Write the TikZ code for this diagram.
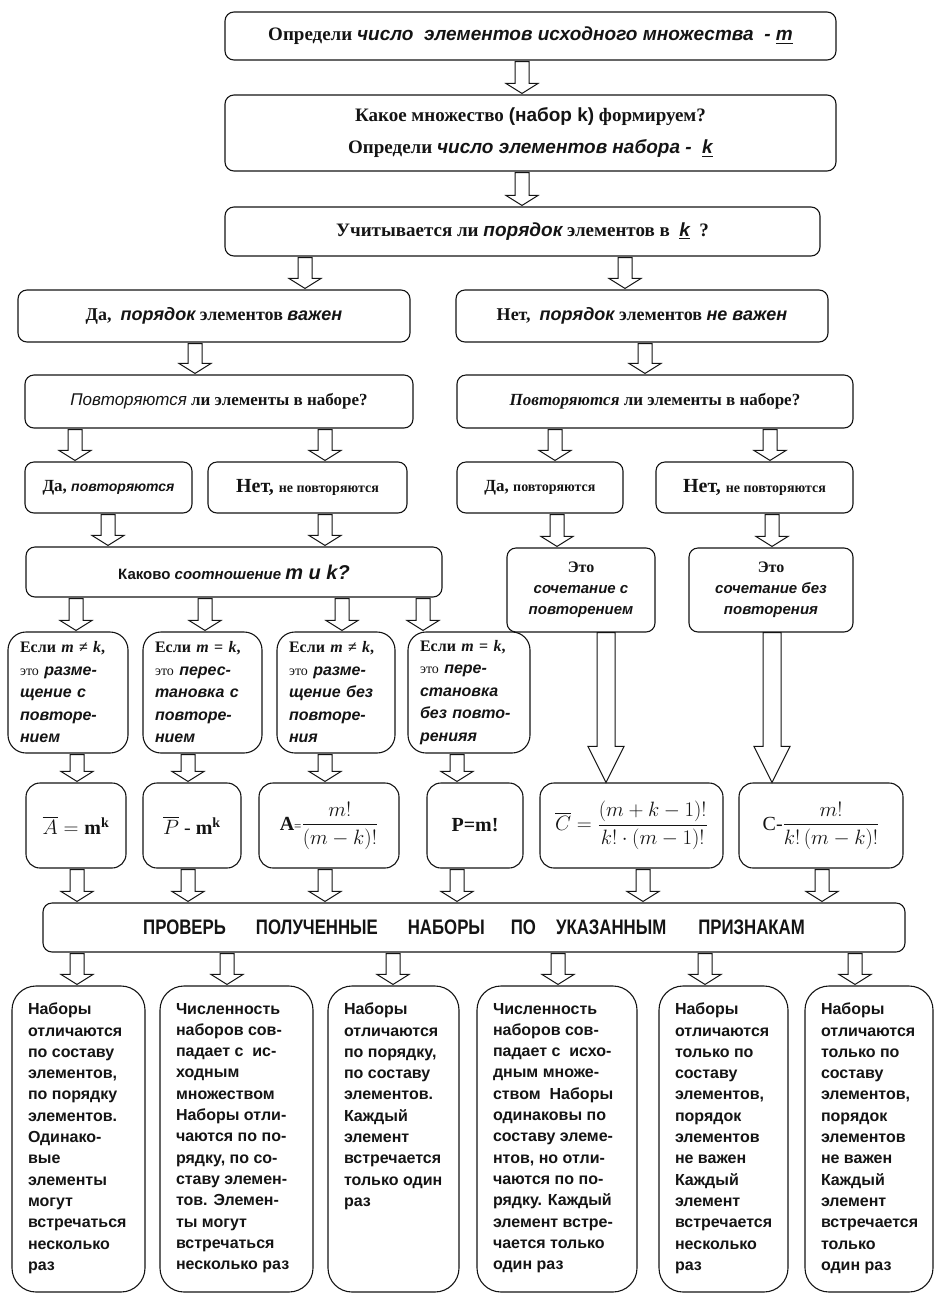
\documentclass[tikz,border=0pt]{standalone}
\usepackage{amsmath}
\usepackage{fontspec}
\setmainfont{Liberation Serif}
\setsansfont{Liberation Sans}
\newfontfamily\narrowsans{Liberation Sans}[FakeStretch=0.8]
\usetikzlibrary{calc}
\definecolor{ink}{RGB}{20,20,20}

\tikzset{
  box/.style={draw=ink, line width=1.1pt, rounded corners=9pt, align=center,
    inner sep=0pt, text=ink},
  smallbox/.style={box, rounded corners=18pt, align=left,
    font=\fontsize{16}{22.5}\selectfont},
  formbox/.style={box, rounded corners=14pt, font=\fontsize{20}{24}\selectfont},
  notebox/.style={box, rounded corners=24pt, inner xsep=16pt, inner ysep=17pt,
    font=\sffamily\bfseries\fontsize{16}{21.3}\selectfont},
  blockarr/.style={draw=ink, line width=1pt, fill=white},
}
% sans bold italic words
\newcommand{\ib}[1]{{\sffamily\bfseries\itshape #1}}
% hollow block arrow at x=#1 from node #2 down to node #3
\newcommand{\varr}[3]{%
  \draw[blockarr] let \p1=(#2.south), \p2=(#3.north) in
    (#1pt-7pt,\y1-1pt) -- (#1pt-7pt,\y2+11pt) -- (#1pt-16pt,\y2+11pt)
    -- (#1pt,\y2+1pt) -- (#1pt+16pt,\y2+11pt) -- (#1pt+7pt,\y2+11pt)
    -- (#1pt+7pt,\y1-1pt) -- cycle;}
\newcommand{\varrlong}[3]{%
  \draw[blockarr] let \p1=(#2.south), \p2=(#3.north) in
    (#1pt-9pt,\y1) -- (#1pt-9pt,\y2+36pt) -- (#1pt-18pt,\y2+36pt)
    -- (#1pt,\y2) -- (#1pt+18pt,\y2+36pt) -- (#1pt+9pt,\y2+36pt)
    -- (#1pt+9pt,\y1) -- cycle;}
\newcommand{\notetext}[2]{\parbox[c][272pt][t]{#1}{\raggedright #2}}

\begin{document}
\begin{tikzpicture}[x=1pt,y=-1pt]
  \useasboundingbox (0,0) rectangle (935,1294);

  % questions
  \node[box, minimum width=611, minimum height=48, font=\bfseries\fontsize{19}{23}\selectfont]
    (first) at (530.5,36) {Определи \ib{число\ \ элементов исходного множества\ \ -\ \underline{m}}};
  \node[box, minimum width=611, minimum height=76, font=\bfseries\fontsize{19}{32}\selectfont]
    (second) at (530.5,133) {Какое множество {\sffamily(набор k)} формируем?\\
      Определи \ib{число элементов набора -\ \ \underline{k}}};
  \node[box, minimum width=595, minimum height=49, font=\bfseries\fontsize{19}{23}\selectfont]
    (order) at (522.5,231.5) {Учитывается ли \ib{порядок} элементов в\ \ \underline{\ib{k}}\ \ ?};

  \node[box, minimum width=392, minimum height=52, font=\bfseries\fontsize{18}{22}\selectfont]
    (yesord) at (214,316) {Да,\ \ \ib{порядок} элементов \ib{важен}};
  \node[box, minimum width=372, minimum height=52, font=\bfseries\fontsize{18}{22}\selectfont]
    (noord) at (642,316) {Нет,\ \ \ib{порядок} элементов \ib{не важен}};

  \node[box, minimum width=388, minimum height=53, font=\bfseries\fontsize{17}{21}\selectfont]
    (repl) at (219,401.5) {{\sffamily\mdseries\itshape Повторяются} ли элементы в наборе?};
  \node[box, minimum width=396, minimum height=53, font=\bfseries\fontsize{17}{21}\selectfont]
    (repr) at (655,401.5) {\textit{Повторяются} ли элементы в наборе?};

  \node[box, minimum width=167, minimum height=51, font=\bfseries\fontsize{17}{21}\selectfont]
    (yesrepl) at (108.5,487.5) {Да, {\fontsize{14}{17}\selectfont\ib{повторяются}}};
  \node[box, minimum width=199, minimum height=51, font=\bfseries\fontsize{20}{21}\selectfont]
    (norepl) at (307.5,487.5) {Нет, {\fontsize{14}{17}\selectfont не повторяются}};
  \node[box, minimum width=166, minimum height=51, font=\bfseries\fontsize{17}{21}\selectfont]
    (yesrepr) at (540,487.5) {Да, {\fontsize{14}{17}\selectfont повторяются}};
  \node[box, minimum width=197, minimum height=51, font=\bfseries\fontsize{20}{21}\selectfont]
    (norepr) at (754.5,487.5) {Нет, {\fontsize{14}{17}\selectfont не повторяются}};

  \node[box, minimum width=416, minimum height=50, font=\sffamily\bfseries\fontsize{15}{19}\selectfont]
    (ratio) at (234,572) {Каково \textit{соотношение} {\itshape\fontsize{20}{19}\selectfont m и k?}};
  \node[box, minimum width=148, minimum height=84, font=\bfseries\fontsize{16}{21}\selectfont]
    (combr) at (581,590) {Это\\ \ib{\fontsize{15}{21}\selectfont сочетание с}\\ \ib{\fontsize{15}{21}\selectfont повторением}};
  \node[box, minimum width=164, minimum height=84, font=\bfseries\fontsize{16}{21}\selectfont]
    (combn) at (771,590) {Это\\ \ib{\fontsize{15}{21}\selectfont сочетание без}\\ \ib{\fontsize{15}{21}\selectfont повторения}};

  % cases
  \node[smallbox, minimum width=120, minimum height=121, text width=96]
    (arrr) at (68,692.5) {\textbf{Если \textit{m} ≠ \textit{k},}\\ {\fontsize{14}{1}\selectfont это} \ib{разме-}\\
      \ib{щение с}\\ \ib{повторе-}\\ \ib{нием}};
  \node[smallbox, minimum width=119, minimum height=121, text width=95]
    (permr) at (202.5,692.5) {\textbf{Если \textit{m} = \textit{k},}\\ {\fontsize{14}{1}\selectfont это} \ib{перес-}\\
      \ib{тановка с}\\ \ib{повторе-}\\ \ib{нием}};
  \node[smallbox, minimum width=118, minimum height=121, text width=94]
    (arrn) at (336,692.5) {\textbf{Если \textit{m} ≠ \textit{k},}\\ {\fontsize{14}{1}\selectfont это} \ib{разме-}\\
      \ib{щение без}\\ \ib{повторе-}\\ \ib{ния}};
  \node[smallbox, minimum width=122, minimum height=121, text width=98]
    (permn) at (469,692.5) {\textbf{Если \textit{m} = \textit{k},}\\ {\fontsize{14}{1}\selectfont это} \ib{пере-}\\
      \ib{становка}\\ \ib{без повто-}\\ \ib{ренияя}};

  % formulas
  \node[formbox, minimum width=100, minimum height=85] (fa) at (76,825.5)
    {$\overline{A}=\mathbf{m}^{\mathbf{k}}$};
  \node[formbox, minimum width=98, minimum height=85] (fp) at (192,825.5)
    {$\overline{P}\ \text{-}\ \mathbf{m}^{\mathbf{k}}$};
  \node[formbox, minimum width=140, minimum height=85] (fan) at (329,825.5)
    {\textbf{A}{\fontsize{13}{1}\selectfont=}$\dfrac{m!}{(m-k)!}$};
  \node[formbox, minimum width=96, minimum height=85] (fpn) at (475,825.5)
    {\textbf{P=m!}};
  \node[formbox, minimum width=183, minimum height=85] (fc) at (631.5,825.5)
    {$\overline{C}=\dfrac{(m+k-1)!}{k!\cdot(m-1)!}$};
  \node[formbox, minimum width=164, minimum height=85] (fcn) at (821,825.5)
    {C-$\dfrac{m!}{k!\,(m-k)!}$};

  \node[box, minimum width=862, minimum height=49, font=\narrowsans\bfseries\fontsize{21}{24}\selectfont]
    (check) at (474,927.5) {ПРОВЕРЬ\hspace{30pt}ПОЛУЧЕННЫЕ\hspace{30pt}НАБОРЫ\hspace{26pt}ПО\hspace{20pt}УКАЗАННЫМ\hspace{32pt}ПРИЗНАКАМ};

  % properties
  \node[notebox] (pa) at (78.5,1139) {\notetext{101pt}{Наборы\\ отличаются\\ по составу\\ элементов,\\ по порядку\\
    элементов.\\ Одинако-\\ вые\\ элементы\\ могут\\ встречаться\\ несколько\\ раз}};
  \node[notebox] (pb) at (236.5,1139) {\notetext{121pt}{Численность\\ наборов сов-\\ падает с\ \ ис-\\ ходным\\
    множеством\\ Наборы отли-\\ чаются по по-\\ рядку, по со-\\ ставу элемен-\\ тов. Элемен-\\ ты могут\\
    встречаться\\ несколько раз}};
  \node[notebox] (pc) at (393.5,1139) {\notetext{99pt}{Наборы\\ отличаются\\ по порядку,\\ по составу\\
    элементов.\\ Каждый\\ элемент\\ встречается\\ \mbox{только один}\\ раз}};
  \node[notebox] (pd) at (557,1139) {\notetext{128pt}{Численность\\ наборов сов-\\ падает с\ \ исхо-\\
    дным множе-\\ ством\ \ Наборы\\ одинаковы по\\ составу элеме-\\ нтов, но отли-\\ чаются по по-\\
    рядку. Каждый\\ элемент встре-\\ чается только\\ один раз}};
  \node[notebox] (pe) at (723.5,1139) {\notetext{97pt}{Наборы\\ отличаются\\ только по\\ составу\\ элементов,\\
    порядок\\ элементов\\ не важен\\ Каждый\\ элемент\\ встречается\\ несколько\\ раз}};
  \node[notebox] (pf) at (869,1139) {\notetext{96pt}{Наборы\\ отличаются\\ только по\\ составу\\ элементов,\\
    порядок\\ элементов\\ не важен\\ Каждый\\ элемент\\ встречается\\ только\\ один раз}};

  % arrows
  \varr{522}{first}{second}
  \varr{522}{second}{order}
  \varr{305}{order}{yesord}
  \varr{625}{order}{noord}
  \varr{195}{yesord}{repl}
  \varr{645}{noord}{repr}
  \varr{75}{repl}{yesrepl}
  \varr{325}{repl}{norepl}
  \varr{555}{repr}{yesrepr}
  \varr{770}{repr}{norepr}
  \varr{108}{yesrepl}{ratio}
  \varr{325}{norepl}{ratio}
  \varr{557}{yesrepr}{combr}
  \varr{772}{norepr}{combn}
  \varr{76}{ratio}{arrr}
  \varr{205}{ratio}{permr}
  \varr{342}{ratio}{arrn}
  \varr{423}{ratio}{permn}
  \varrlong{606}{combr}{fc}
  \varrlong{772}{combn}{fcn}
  \varr{77}{arrr}{fa}
  \varr{188}{permr}{fp}
  \varr{325}{arrn}{fan}
  \varr{457}{permn}{fpn}
  \varr{77}{fa}{check}
  \varr{188}{fp}{check}
  \varr{325}{fan}{check}
  \varr{457}{fpn}{check}
  \varr{643}{fc}{check}
  \varr{822}{fcn}{check}
  \varr{77}{check}{pa}
  \varr{227}{check}{pb}
  \varr{393}{check}{pc}
  \varr{558}{check}{pd}
  \varr{705}{check}{pe}
  \varr{855}{check}{pf}
\end{tikzpicture}
\end{document}
